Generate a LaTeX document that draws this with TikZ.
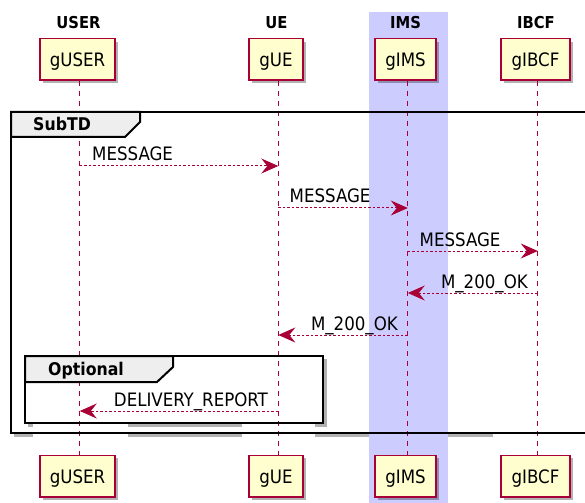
\documentclass[tikz,border=0pt]{standalone}
\usepackage{fontspec}
\setmainfont{DejaVu Sans Condensed}
\usetikzlibrary{arrows.meta,shadows}
\definecolor{pred}{HTML}{A80036}
\definecolor{pfill}{HTML}{FEFECE}
\definecolor{pblue}{RGB}{204,204,255}
\definecolor{ptab}{HTML}{EEEEEE}
\begin{document}
\begin{tikzpicture}[x=1bp,y=-1bp,
  part/.style={draw=pred, fill=pfill, line width=1.5bp, minimum height=41.5bp, inner sep=0pt,
    text height=15bp, text depth=0bp, font=\fontsize{18.5bp}{22bp}\selectfont,
    drop shadow={shadow xshift=3bp, shadow yshift=-3bp, fill=black, opacity=0.3}},
  head/.style={font=\fontsize{16.4bp}{20bp}\selectfont\bfseries, anchor=base, inner sep=0pt},
  lbl/.style={font=\fontsize{18.5bp}{22bp}\selectfont, inner sep=0pt},
  life/.style={pred, line width=1bp, dash pattern=on 5bp off 5bp},
  msg/.style={pred, line width=1bp, dash pattern=on 2.5bp off 2bp, -{Stealth[length=17bp,width=15bp,inset=6bp]}},
  frame/.style={black, line width=2bp},
  fshadow/.style={black!30, line width=2.5bp},
  grp/.style={font=\fontsize{17.5bp}{21bp}\selectfont\bfseries, inner sep=0pt, anchor=base west}
]
\useasboundingbox (0,0) rectangle (585,503);

% frame shadows
\draw[fshadow] (14,435.5) -- (590,435.5);
\draw[fshadow] (28,425.5) -- (325.5,425.5) -- (325.5,359);

% IMS box
\node[fill=pblue, minimum width=79bp, minimum height=491bp, inner sep=0pt, anchor=north west] (imsbox) at (369,12) {};

% lifeline backgrounds
\fill[white] (33,88) rectangle (128,450);
\fill[white] (242,88) rectangle (315,450);
\fill[white] (493,88) rectangle (586,450);

% participants
\node[part, minimum width=75bp] (pUSER) at (77.5,59.5) {gUSER};
\node[part, minimum width=54bp] (pUE) at (276,59.5) {gUE};
\node[part, minimum width=61bp] (pIMS) at (405.5,59.5) {gIMS};
\node[part, minimum width=69bp] (pIBCF) at (535.5,59.5) {gIBCF};
\node[part, minimum width=75bp] (bUSER) at (77.5,476) {gUSER};
\node[part, minimum width=54bp] (bUE) at (276,476) {gUE};
\node[part, minimum width=61bp] (bIMS) at (405.5,476) {gIMS};
\node[part, minimum width=69bp] (bIBCF) at (535.5,476) {gIBCF};

\node[head] (hUSER) at (78.5,29) {USER};
\node[head] (hUE) at (276.5,29) {UE};
\node[head] (hIMS) at (405.5,29) {IMS};
\node[head] (hIBCF) at (536,29) {IBCF};

% lifelines
\coordinate (xU) at ([xshift=2.3bp]pUSER.south);
\coordinate (xE) at ([xshift=2.3bp]pUE.south);
\coordinate (xI) at ([xshift=2.3bp]pIMS.south);
\coordinate (xB) at ([xshift=2.3bp]pIBCF.south);
\draw[life] (xU) -- ([xshift=2.3bp]bUSER.north);
\draw[life] (xE) -- ([xshift=2.3bp]bUE.north);
\draw[life] (xI) -- ([xshift=2.3bp]bIMS.north);
\draw[life] (xB) -- ([xshift=2.3bp]bIBCF.north);

% SubTD frame
\draw[frame] (590,112) -- (11,112) -- (11,433) -- (590,433);
\draw[frame, fill=ptab] (11,112) -- (140,112) -- (140,122) -- (125,137) -- (11,137) -- cycle;
\node[grp] (subtd) at (33,131) {SubTD};

% Optional frame
\draw[frame] (25,356) rectangle (323,423);
\draw[frame, fill=ptab] (25,356) -- (173,356) -- (173,367) -- (157,382) -- (25,382) -- cycle;
\node[grp] (opt) at (48,375) {Optional};

% messages
\draw[msg] (xU |- 0,166) -- (xE |- 0,166);
\node[lbl, anchor=base west] (m1) at (92,161) {MESSAGE};
\draw[msg] (xE |- 0,208) -- (xI |- 0,208);
\node[lbl, anchor=base west] (m2) at (289.5,203) {MESSAGE};
\draw[msg] (xI |- 0,251) -- (xB |- 0,251);
\node[lbl, anchor=base west] (m3) at (419.5,246) {MESSAGE};
\draw[msg] (xB |- 0,293) -- (xI |- 0,293);
\node[lbl, anchor=base east] (m4) at (528,288) {M\_200\_OK};
\draw[msg] (xI |- 0,335) -- (xE |- 0,335);
\node[lbl, anchor=base east] (m5) at (398,330) {M\_200\_OK};
\draw[msg] (xE |- 0,411) -- (xU |- 0,411);
\node[lbl, anchor=base east] (m6) at (268,406) {DELIVERY\_REPORT};
\end{tikzpicture}
\end{document}
